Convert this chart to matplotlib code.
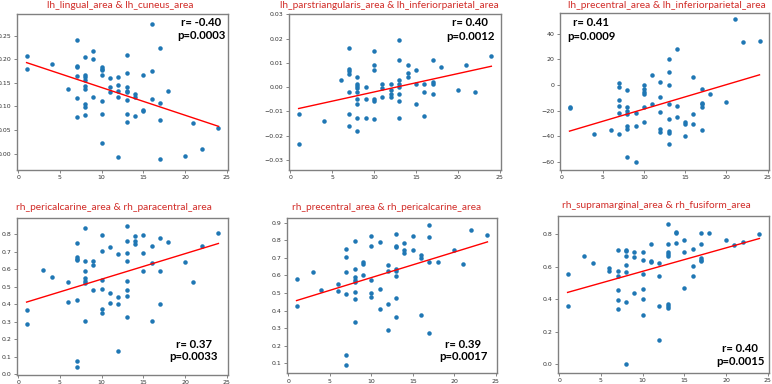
import matplotlib
matplotlib.use("Agg")
import matplotlib.pyplot as plt

# ---------------- data ----------------
titles = [
    "lh_lingual_area & lh_cuneus_area",
    "lh_parstriangularis_area & lh_inferiorparietal_area",
    "lh_precentral_area & lh_inferiorparietal_area",
    "rh_pericalcarine_area & rh_paracentral_area",
    "rh_precentral_area & rh_pericalcarine_area",
    "rh_supramarginal_area & rh_fusiform_area",
]
r_labels = ["r= -0.40", "r= 0.40", "r= 0.41", "r= 0.37", "r= 0.39", "r= 0.40"]
p_labels = ["p=0.0003", "p=0.0012", "p=0.0009", "p=0.0033", "p=0.0017", "p=0.0015"]

x1 = [1,1,4,6,7,7,7,7,7,7,8,8,8,8,8,8,8,8,8,9,9,9,10,10,10,10,10,10,10,11,11,11,
      12,12,12,12,12,13,13,13,13,13,13,13,13,14,14,14,15,15,15,16,16,16,17,17,17,17,18,20,21,22,24]
y1 = [0.208,0.179,0.191,0.138,0.2415,0.185,0.183,0.164,0.119,0.078,0.204,0.167,0.162,0.157,
      0.143,0.136,0.106,0.098,0.083,0.217,0.2006,0.121,0.183,0.179,0.177,0.166,0.111,0.084,
      0.022,0.161,0.142,0.131,0.162,0.146,0.133,0.121,-0.006,0.210,0.170,0.142,0.133,0.131,
      0.113,0.085,0.068,0.126,0.121,0.080,0.166,0.093,0.090,0.274,0.176,0.115,0.223,0.107,
      0.072,-0.011,0.132,-0.005,0.066,0.010,0.055]

x2 = [1,1,4,6,7,7,7,7,7,7,7,8,8,8,8,8,8,8,8,8,9,9,9,10,10,10,10,10,10,11,11,11,12,12,12,12,
      13,13,13,13,13,13,13,13,14,14,14,15,15,15,16,16,16,17,17,17,17,18,20,21,22,24]
y2 = [-0.011,-0.0232,-0.0141,0.003,0.016,0.0074,0.0066,0.0056,-0.0019,-0.011,-0.0159,0.004,
      0.0012,0.0004,-0.0003,-0.0019,-0.0049,-0.007,-0.0129,-0.018,0.0,-0.0049,-0.0129,0.015,
      0.009,0.0071,-0.0049,-0.0058,-0.013,0.0011,-0.0003,-0.004,0.0011,-0.001,-0.003,-0.004,
      0.0192,0.011,0.003,0.0011,0.0001,-0.003,-0.0059,-0.0129,0.009,0.006,0.004,0.0071,0.0011,
      -0.007,0.0011,-0.0019,-0.0119,0.011,0.0023,0.0011,-0.0029,0.0081,-0.001,0.009,-0.0019,0.013]

x3 = [1,1,4,6,7,7,7,7,7,7,8,8,8,8,8,8,8,9,9,9,10,10,10,10,10,10,11,11,12,12,12,12,12,
      13,13,13,13,13,13,13,13,14,14,14,15,15,15,16,16,16,17,17,17,17,17,18,20,21,22,24]
y3 = [-16.8,-17.8,-38.1,-35,1.5,-1.7,-11.6,-16.3,-22,-38.1,-3.8,-17.5,-20.1,-23,-32.1,-34.2,
      -55.8,-22,-32.1,-60,0.2,-3.2,-5.3,-7.2,-16.8,-29.1,8,-14.7,2,-9,-21,-34.7,-36.3,20.2,9.8,
      0.2,-14.9,-26.9,-36,-37.1,-46,28,-16.3,-24.9,-28.8,-30.3,-40,5.9,-23,-30.3,-3,-13.9,-15.2,
      -16.8,-35,-6.9,-12.9,51.4,33.2,34]

x4 = [1,1,3,4,6,6,7,7,7,7,7,7,7,8,8,8,8,8,8,8,9,9,9,10,10,10,10,10,10,11,11,11,12,12,12,12,
      13,13,13,13,13,13,13,13,14,14,14,15,15,15,16,16,16,17,17,17,18,20,21,22,24]
y4 = [0.366,0.286,0.597,0.554,0.526,0.411,0.752,0.670,0.660,0.652,0.424,0.077,0.042,0.836,
      0.647,0.591,0.549,0.535,0.524,0.301,0.650,0.627,0.483,0.794,0.706,0.539,0.489,0.370,
      0.347,0.727,0.464,0.409,0.685,0.443,0.399,0.134,0.846,0.764,0.696,0.645,0.535,0.483,
      0.449,0.328,0.790,0.765,0.744,0.794,0.696,0.589,0.731,0.635,0.301,0.779,0.591,0.401,
      0.756,0.641,0.526,0.733,0.808]

x5 = [1,1,3,4,6,6,7,7,7,7,7,7,8,8,8,8,8,8,8,8,9,9,9,10,10,10,10,10,11,11,11,12,12,12,12,
      13,13,13,13,13,13,13,13,14,14,14,15,15,16,16,16,17,17,17,17,18,20,21,22,24]
y5 = [0.582,0.425,0.621,0.519,0.549,0.511,0.753,0.706,0.619,0.492,0.150,0.089,0.795,0.638,
      0.589,0.574,0.560,0.508,0.466,0.336,0.679,0.668,0.600,0.824,0.769,0.572,0.502,0.477,
      0.791,0.521,0.407,0.660,0.626,0.439,0.292,0.835,0.769,0.761,0.639,0.626,0.599,0.473,
      0.365,0.784,0.746,0.725,0.826,0.744,0.715,0.698,0.374,0.885,0.818,0.677,0.273,0.677,
      0.744,0.666,0.860,0.830]

x6 = [1,1,3,4,6,6,7,7,7,7,7,7,8,8,8,8,8,8,8,9,9,9,10,10,10,10,10,10,11,11,11,12,12,12,12,
      13,13,13,13,13,13,13,13,14,14,14,15,15,15,16,16,16,17,17,17,17,17,18,20,21,22,24]
y6 = [0.558,0.356,0.668,0.624,0.593,0.573,0.703,0.575,0.541,0.455,0.397,0.337,0.707,0.696,
      0.668,0.610,0.571,0.380,-0.002,0.690,0.659,0.440,0.690,0.645,0.556,0.465,0.399,0.304,
      0.740,0.635,0.631,0.624,0.541,0.360,0.145,0.866,0.742,0.692,0.678,0.668,0.368,0.357,
      0.347,0.816,0.808,0.750,0.765,0.690,0.471,0.709,0.606,0.541,0.810,0.740,0.655,0.645,
      0.637,0.806,0.767,0.736,0.752,0.800]

# regression line end points (x = 1 and x = 24)
fit_x = [1, 24]
fit_y = [(0.193, 0.058), (-0.0088, 0.0086), (-36.0, 7.9),
         (0.412, 0.748), (0.457, 0.791), (0.442, 0.775)]

xs = [x1, x2, x3, x4, x5, x6]
ys = [y1, y2, y3, y4, y5, y6]

# ---------------- layout ----------------
W, H = 772, 384
fig = plt.figure(figsize=(W / 100, H / 100), dpi=100)

# axes boxes in pixels: left, right, top, bottom
boxes = [(17, 228, 14, 170), (289, 501, 14, 170), (560, 769, 13, 170),
         (17, 228, 218, 374.5), (287, 497, 218, 373.3), (558, 769, 216, 372.7)]
ylims = [(-0.0346, 0.296), (-0.0341, 0.0301), (-66.3, 56.1),
         (-0.003, 0.894), (0.043, 0.927), (-0.054, 0.914)]
title_pos = [(120.3, 5.5, 147), (389.7, 5.5, 219), (666.7, 5.5, 197),
             (114.2, 208, 195), (386.3, 207.3, 189), (656.5, 205.7, 188)]
r_pos = [(201, 23), (470, 23), (591, 23), (193.5, 345), (463.5, 345), (740, 349)]
p_pos = [(201, 35.5), (471, 36), (591, 36), (193.5, 356.7), (463.5, 356), (740.7, 361.7)]

title_color = "#d12b27"
spine_color = "#808080"

fig.canvas.draw()
renderer = fig.canvas.get_renderer()

for i in range(6):
    l, r, t, b = boxes[i]
    ax = fig.add_axes([l / W, 1 - b / H, (r - l) / W, (b - t) / H])
    ax.scatter(xs[i], ys[i], s=10.5, color="#1f77b4", linewidths=0, zorder=3)
    ax.plot(fit_x, fit_y[i], color="red", lw=1.0, zorder=4)
    ax.set_xlim(-0.15, 25.15)
    ax.set_ylim(*ylims[i])
    ax.set_xticks([0, 5, 10, 15, 20, 25])
    ax.tick_params(labelsize=4.5, length=2, width=0.5, pad=1.8,
                   colors="#555555", labelcolor="#333333")
    for sp in ax.spines.values():
        sp.set_color(spine_color)
        sp.set_linewidth(1.0)

    # title fitted to the measured width
    cx, cy, tw = title_pos[i]
    txt = fig.text(cx / W, 1 - cy / H, titles[i], ha="center", va="center",
                   color=title_color, fontsize=8, family="Lato")
    w = txt.get_window_extent(renderer).width
    txt.set_fontsize(8 * tw / w)

    fig.text(r_pos[i][0] / W, 1 - r_pos[i][1] / H, r_labels[i], ha="center", va="center",
             fontsize=8.2, fontweight="bold", family="Lato", color="black")
    fig.text(p_pos[i][0] / W, 1 - p_pos[i][1] / H, p_labels[i], ha="center", va="center",
             fontsize=8.2, fontweight="bold", family="Lato", color="black")

fig.savefig("out.png", dpi=100)
